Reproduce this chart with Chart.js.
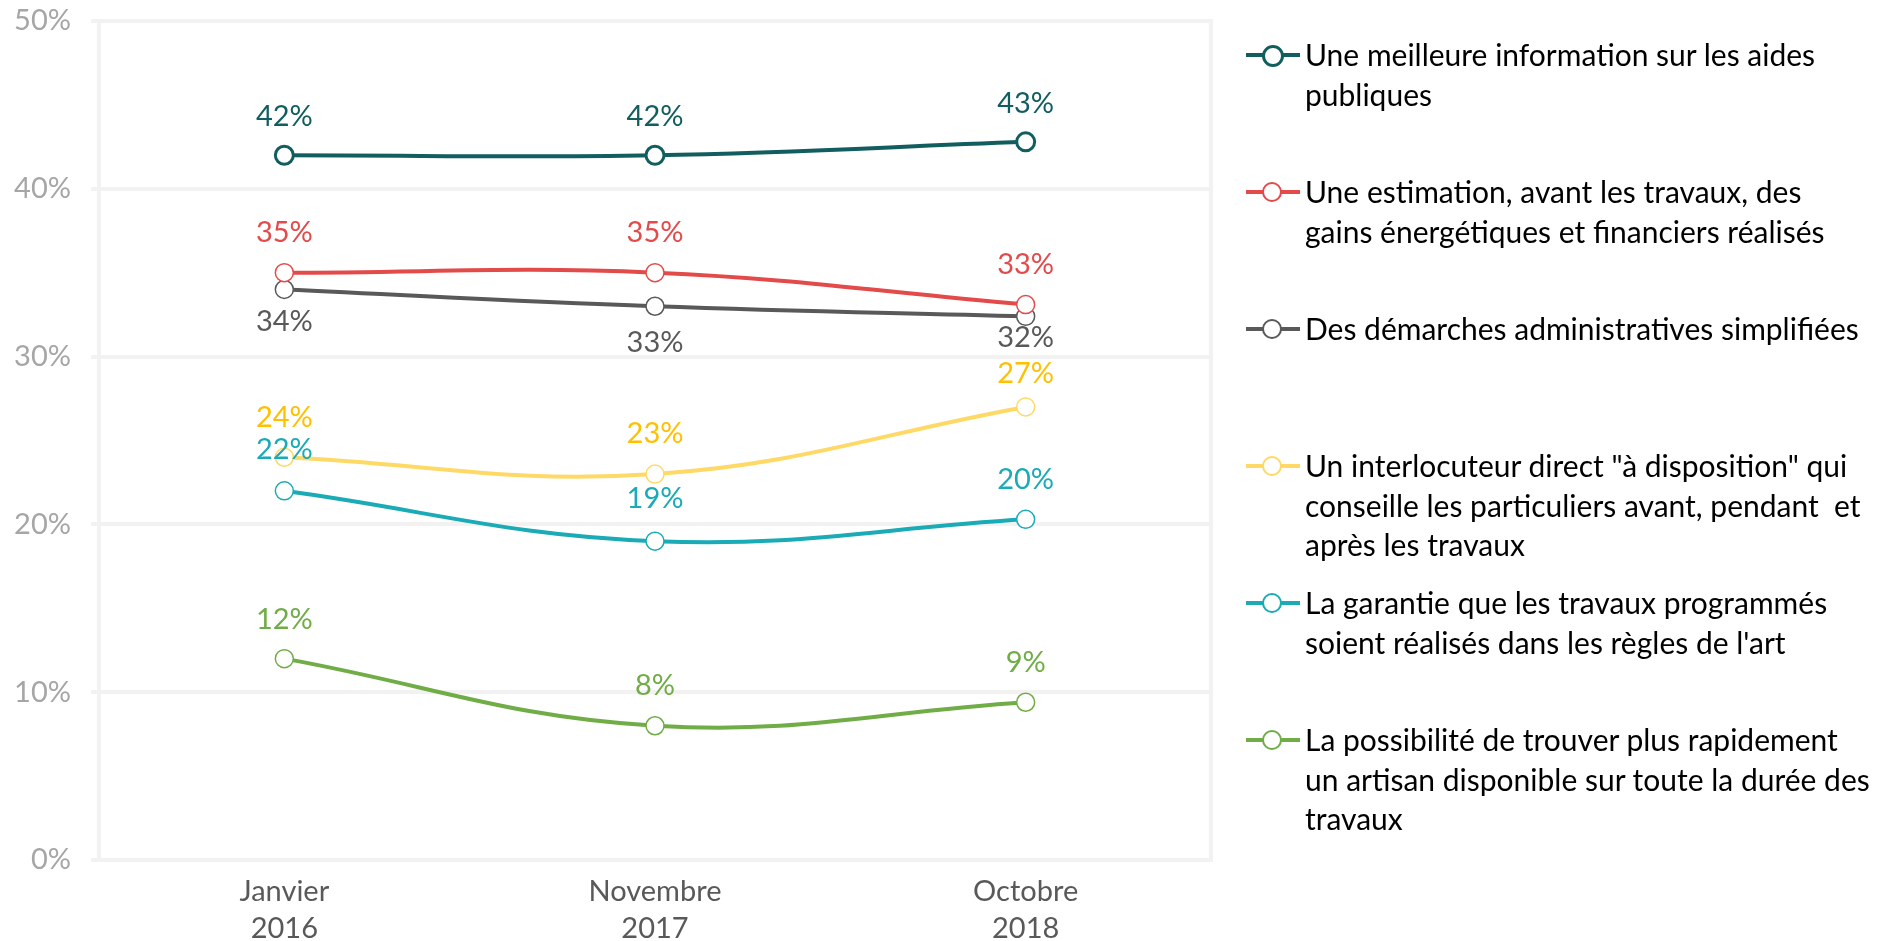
<!DOCTYPE html>
<html lang="fr">
<head>
    <meta charset="UTF-8">
    <title>Attentes des particuliers - travaux de rénovation</title>
    <script src="https://cdn.jsdelivr.net/npm/chart.js"></script>
    <style>
        body {
            margin: 0;
            background: #ffffff;
            font-family: Lato, Arial, sans-serif;
        }
        #zone {
            position: relative;
            width: 1888px;
            height: 941px;
        }
        #graphique {
            position: absolute;
            left: 0;
            top: 0;
        }
        #legende {
            position: absolute;
            left: 1246px;
            top: 0;
        }
        .item {
            position: absolute;
            left: 0;
            width: 640px;
        }
        .trait {
            position: absolute;
            left: 0;
            top: 18px;
            width: 54px;
            height: 4px;
        }
        .rond {
            position: absolute;
            left: 16px;
            top: 10px;
            width: 16px;
            height: 16px;
            border-radius: 50%;
            background: #ffffff;
        }
        .texte {
            position: absolute;
            left: 59px;
            top: 0;
            font-size: 30px;
            line-height: 39.3px;
            color: #000000;
            white-space: pre;
        }
    </style>
</head>
<body>
    <div id="zone">
        <canvas id="graphique" width="1888" height="941"></canvas>
        <div id="legende"></div>
    </div>

    <script>
        // Données
        var periodes = [['Janvier', '2016'], ['Novembre', '2017'], ['Octobre', '2018']];
        var infoAides = [42, 42, 42.8];
        var estimationGains = [35, 35, 33.1];
        var demarchesSimplifiees = [34, 33, 32.4];
        var interlocuteurDirect = [24, 23, 27];
        var garantieTravaux = [22, 19, 20.3];
        var artisanDisponible = [12, 8, 9.4];
        var graduations = [0, 10, 20, 30, 40, 50];

        var libelles = [
            ['Une meilleure information sur les aides', 'publiques'],
            ['Une estimation, avant les travaux, des', 'gains énergétiques et financiers réalisés'],
            ['Des démarches administratives simplifiées'],
            ['Un interlocuteur direct "à disposition" qui', 'conseille les particuliers avant, pendant  et', 'après les travaux'],
            ['La garantie que les travaux programmés', 'soient réalisés dans les règles de l\'art'],
            ['La possibilité de trouver plus rapidement', 'un artisan disponible sur toute la durée des', 'travaux']
        ];

        // style de chaque série ; ecarts = décalage vertical des étiquettes (px)
        var series = [
            { valeurs: infoAides, couleur: '#125e5f', texte: '#125e5f', bord: 3, ecarts: [-39, -39, -38] },
            { valeurs: estimationGains, couleur: '#e34a4a', texte: '#e34a4a', bord: 1.5, ecarts: [-40, -40, -40] },
            { valeurs: demarchesSimplifiees, couleur: '#595959', texte: '#595959', bord: 1.5, ecarts: [32, 36, 21] },
            { valeurs: interlocuteurDirect, couleur: '#ffd966', texte: '#ffc000', bord: 1.5, ecarts: [-40, -40, -33] },
            { valeurs: garantieTravaux, couleur: '#1aabb6', texte: '#1aabb6', bord: 1.5, ecarts: [-41, -43, -40] },
            { valeurs: artisanDisponible, couleur: '#70ad47', texte: '#70ad47', bord: 1.5, ecarts: [-39, -40, -40] }
        ];

        var policeLato = 'Lato, Arial, sans-serif';

        var jeux = series.map(function (s, i) {
            return {
                label: libelles[i].join(' '),
                data: s.valeurs,
                borderColor: s.couleur,
                borderWidth: 4,
                tension: 0.4,
                pointRadius: 9,
                pointHoverRadius: 9,
                pointBackgroundColor: '#ffffff',
                pointBorderColor: s.couleur,
                pointBorderWidth: s.bord,
                fill: false
            };
        });

        // Étiquettes de valeur au-dessus / au-dessous des points
        var etiquettes = {
            id: 'etiquettes',
            afterDatasetsDraw: function (chart) {
                var ctx = chart.ctx;
                ctx.save();
                ctx.font = '29px ' + policeLato;
                ctx.textAlign = 'center';
                ctx.textBaseline = 'middle';
                chart.data.datasets.forEach(function (ds, i) {
                    var meta = chart.getDatasetMeta(i);
                    meta.data.forEach(function (pt, j) {
                        ctx.fillStyle = series[i].texte;
                        ctx.fillText(Math.round(ds.data[j]) + '%', pt.x, pt.y + series[i].ecarts[j]);
                    });
                });
                ctx.restore();
            }
        };

        // Bord droit de la zone de tracé
        var bordDroit = {
            id: 'bordDroit',
            beforeDatasetsDraw: function (chart) {
                var a = chart.chartArea;
                var ctx = chart.ctx;
                ctx.save();
                ctx.strokeStyle = '#f2f2f2';
                ctx.lineWidth = 4;
                ctx.beginPath();
                ctx.moveTo(a.right, a.top - 2);
                ctx.lineTo(a.right, a.bottom + 2);
                ctx.stroke();
                ctx.restore();
            }
        };

        var ctx = document.getElementById('graphique').getContext('2d');
        var monGraphique = new Chart(ctx, {
            type: 'line',
            data: {
                labels: periodes,
                datasets: jeux
            },
            options: {
                responsive: false,
                animation: false,
                layout: {
                    padding: { top: 21, right: 677, bottom: 0, left: 0 }
                },
                plugins: {
                    legend: { display: false },
                    tooltip: { enabled: false }
                },
                scales: {
                    x: {
                        offset: true,
                        grid: { display: false, drawTicks: false },
                        border: { display: false },
                        ticks: {
                            color: '#595959',
                            padding: 14,
                            font: { family: policeLato, size: 29, lineHeight: 1.25 }
                        },
                        afterFit: function (axe) {
                            axe.height = 81;
                            axe.paddingLeft = 0;
                            axe.paddingRight = 0;
                        }
                    },
                    y: {
                        min: 0,
                        max: 50,
                        afterBuildTicks: function (axe) {
                            axe.ticks = graduations.map(function (v) { return { value: v }; });
                        },
                        grid: {
                            color: '#f2f2f2',
                            lineWidth: 4,
                            tickLength: 8,
                            tickColor: '#f2f2f2'
                        },
                        border: { color: '#f2f2f2', width: 4 },
                        ticks: {
                            color: '#a6a6a6',
                            padding: 20,
                            font: { family: policeLato, size: 29 },
                            callback: function (v) { return v + '%'; }
                        },
                        afterFit: function (axe) {
                            axe.width = 99;
                            axe.paddingTop = 0;
                            axe.paddingBottom = 0;
                        }
                    }
                }
            },
            plugins: [etiquettes, bordDroit]
        });

        // Légende à droite, construite à partir des séries
        var legende = document.getElementById('legende');
        libelles.forEach(function (lignes, i) {
            var item = document.createElement('div');
            item.className = 'item';
            item.style.top = (35.4 + 137 * i) + 'px';
            item.innerHTML =
                '<div class="trait" style="background:' + series[i].couleur + '"></div>' +
                '<div class="rond" style="border:' + Math.max(2, series[i].bord) + 'px solid ' + series[i].couleur + '"></div>' +
                '<div class="texte"></div>';
            item.querySelector('.texte').textContent = lignes.join('\n');
            legende.appendChild(item);
        });
    </script>
</body>
</html>
